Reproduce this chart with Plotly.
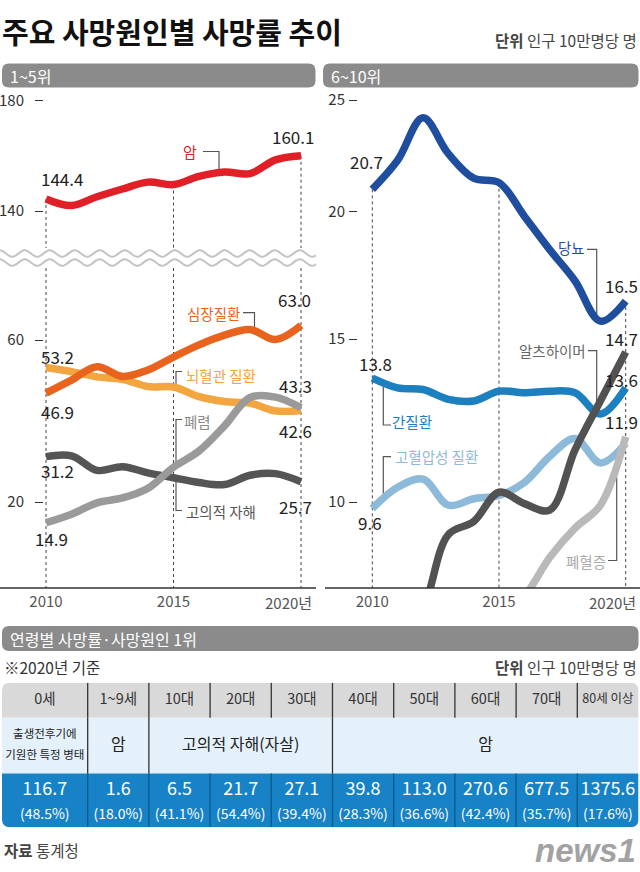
import plotly.graph_objects as go
import numpy as np

W, H = 640, 872
FONT = "Noto Sans CJK KR"


def X(px):
    return px / W


def Y(py):
    return 1 - py / H


# ---------------- data ----------------
years = list(range(2010, 2021))

# 1~5위 (인구 10만명당)
cancer = [144.4, 142.0, 145.2, 148.0, 150.5, 149.6, 152.6, 154.2, 153.6, 158.6, 160.1]
heart = [46.9, 50.1, 53.4, 51.0, 52.6, 55.8, 58.8, 61.2, 62.6, 60.1, 63.6]
cerebro = [53.2, 52.2, 50.9, 50.3, 48.5, 48.4, 46.0, 44.8, 44.4, 42.5, 42.6]
pneumonia = [14.9, 17.0, 19.8, 21.0, 23.4, 28.6, 32.6, 38.8, 45.8, 45.9, 43.3]
suicide = [31.2, 31.4, 27.8, 28.7, 27.2, 26.0, 24.8, 24.3, 26.6, 27.0, 25.0]

# 6~10위
diabetes = [21.0, 22.3, 24.2, 22.6, 21.5, 21.3, 19.8, 18.3, 16.9, 15.1, 16.0]
liver = [13.8, 13.5, 13.45, 13.15, 13.1, 13.4, 13.35, 13.4, 13.35, 12.7, 13.5]
hypertension = [9.8, 10.45, 10.7, 9.9, 10.1, 10.2, 10.6, 11.4, 11.95, 11.2, 11.8]
alzheimer = [4.5, 5.6, 6.7, 9.0, 9.4, 10.3, 9.95, 9.75, 11.6, 13.1, 14.6]
sepsis = [3.9, 4.5, 5.0, 5.4, 5.9, 6.4, 7.1, 8.3, 9.2, 9.9, 12.0]

# 연령별 사망률·사망원인 1위 (2020년)
ages = ["0세", "1~9세", "10대", "20대", "30대", "40대", "50대", "60대", "70대", "80세 이상"]
causes = ["출생전후기에<br>기원한 특정 병태", "암", "고의적 자해(자살)", "암"]
cause_span = [1, 1, 3, 5]
rates = [116.7, 1.6, 6.5, 21.7, 27.1, 39.8, 113.0, 270.6, 677.5, 1375.6]
shares = [48.5, 18.0, 41.1, 54.4, 39.4, 28.3, 36.6, 42.4, 35.7, 17.6]

# ---------------- styles ----------------
C_CANCER = "#e01f27"
C_HEART = "#e8641e"
C_CEREBRO = "#f3a53f"
C_PNEU = "#9a9a9a"
C_SUI = "#555555"
C_DIAB = "#1f4e9e"
C_LIVER = "#1b7fc0"
C_HYPER = "#8dbad9"
C_ALZ = "#525252"
C_SEPSIS = "#b9b9b9"
LW = 7.5

fig = go.Figure()


def add_line(vals, color, xa, ya):
    fig.add_trace(go.Scatter(
        x=years, y=vals, mode="lines", xaxis=xa, yaxis=ya,
        line=dict(color=color, width=LW, shape="spline", smoothing=1.0),
        hoverinfo="skip", showlegend=False))


add_line(cancer, C_CANCER, "x", "y")
add_line(suicide, C_SUI, "x", "y2")
add_line(cerebro, C_CEREBRO, "x", "y2")
add_line(heart, C_HEART, "x", "y2")
add_line(pneumonia, C_PNEU, "x", "y2")

add_line(diabetes, C_DIAB, "x2", "y3")
add_line(hypertension, C_HYPER, "x2", "y4")
add_line(liver, C_LIVER, "x2", "y4")
add_line(sepsis, C_SEPSIS, "x2", "y4")
add_line(alzheimer, C_ALZ, "x2", "y4")

# ---------------- table (own axes) ----------------
col_w = [1.4, 1, 1, 1, 1, 1, 1, 1, 1, 1]
row_h = [1.0, 1.59, 1.54]
cb = np.concatenate([[0], np.cumsum(col_w)])
rb = np.concatenate([[0], np.cumsum(row_h)])
TW, TH = cb[-1], rb[-1]
centers = [(cb[i] + cb[i + 1]) / 2 for i in range(len(col_w))]

fig.add_trace(go.Scatter(
    x=centers, y=[rb[0] + row_h[0] / 2] * len(ages), text=ages, mode="text",
    textfont=dict(family=FONT, size=[14.5] * 9 + [12.5], color="#333"),
    xaxis="x3", yaxis="y5", hoverinfo="skip", showlegend=False, cliponaxis=False))

# cause row (merged cells)
ci = 0
cx, cy, ct, cs = [], [], [], []
for txt, sp in zip(causes, cause_span):
    c = (cb[ci] + cb[ci + sp]) / 2
    parts = txt.split("<br>")
    mid = rb[1] + row_h[1] / 2
    n = len(parts)
    for k, p in enumerate(parts):
        cx.append(c)
        cy.append(mid + (k - (n - 1) / 2) * 0.62)
        ct.append(p)
        cs.append(11.5 if n > 1 else 16)
    ci += sp
fig.add_trace(go.Scatter(
    x=cx, y=cy, text=ct, mode="text",
    textfont=dict(family=FONT, size=cs, color="#222"),
    xaxis="x3", yaxis="y5", hoverinfo="skip", showlegend=False, cliponaxis=False))

fig.add_trace(go.Scatter(
    x=centers, y=[rb[2] + row_h[2] * 0.31] * len(rates),
    text=[f"{v:.1f}" for v in rates], mode="text",
    textfont=dict(family=FONT, size=18, color="white"),
    xaxis="x3", yaxis="y5", hoverinfo="skip", showlegend=False, cliponaxis=False))
fig.add_trace(go.Scatter(
    x=centers, y=[rb[2] + row_h[2] * 0.78] * len(shares),
    text=[f"({v:.1f}%)" for v in shares], mode="text",
    textfont=dict(family=FONT, size=14, color="white"),
    xaxis="x3", yaxis="y5", hoverinfo="skip", showlegend=False, cliponaxis=False))

# ---------------- shapes ----------------
shapes = []


def rpath(x0, y0, x1, y1, rx, ry, corners, fx, fy):
    tl, tr, br, bl = corners
    P = lambda x, y: f"{fx(x):.6f},{fy(y):.6f}"
    s = []
    if tl:
        s += ["M " + P(x0, y0 + ry), "Q " + P(x0, y0) + " " + P(x0 + rx, y0)]
    else:
        s += ["M " + P(x0, y0)]
    if tr:
        s += ["L " + P(x1 - rx, y0), "Q " + P(x1, y0) + " " + P(x1, y0 + ry)]
    else:
        s += ["L " + P(x1, y0)]
    if br:
        s += ["L " + P(x1, y1 - ry), "Q " + P(x1, y1) + " " + P(x1 - rx, y1)]
    else:
        s += ["L " + P(x1, y1)]
    if bl:
        s += ["L " + P(x0 + rx, y1), "Q " + P(x0, y1) + " " + P(x0, y1 - ry)]
    else:
        s += ["L " + P(x0, y1)]
    s.append("Z")
    return " ".join(s)


BAR = "#8b8b8b"
for (x0, y0, x1, y1) in [(2, 63.5, 315.5, 87.5), (323, 63.5, 638.5, 87.5), (2, 626, 638.5, 651)]:
    shapes.append(dict(type="path", xref="paper", yref="paper",
                       path=rpath(x0, y0, x1, y1, 7, 7, (1, 1, 1, 1), X, Y),
                       fillcolor=BAR, line=dict(width=0), layer="below"))

# baselines
shapes.append(dict(type="line", xref="paper", yref="paper", x0=X(0), x1=X(316), y0=Y(588), y1=Y(588),
                   line=dict(color="#333", width=1.5)))
shapes.append(dict(type="line", xref="paper", yref="paper", x0=X(325), x1=X(640), y0=Y(588), y1=Y(588),
                   line=dict(color="#333", width=1.5)))

# dotted year guides
DOT = dict(color="#444", width=1, dash="dot")
UP_MIN, UP_MAX = 126.55, 183.27
LO_MIN, LO_MAX = -1.235, 77.78
R3_MIN, R3_MAX = 3.156, 25.358
R4_MIN, R4_MAX = 7.362, 22.577
for yr in [2010, 2015, 2020]:
    i = years.index(yr)
    shapes.append(dict(type="line", xref="x", yref="y", x0=yr, x1=yr, y0=cancer[i], y1=UP_MIN,
                       line=DOT, layer="below"))
    shapes.append(dict(type="line", xref="x", yref="y2", x0=yr, x1=yr, y0=LO_MAX, y1=LO_MIN,
                       line=DOT, layer="below"))
    shapes.append(dict(type="line", xref="x2", yref="y3", x0=yr, x1=yr, y0=diabetes[i], y1=R3_MIN,
                       line=DOT, layer="below"))

# axis-break waves
for yc in (253.5, 262.5):
    xs = np.arange(0, 317, 1.0)
    ys = yc + 3.2 * np.sin(2 * np.pi * (xs - 6) / 25.0)
    path = "M " + " L ".join(f"{X(a):.6f},{Y(b):.6f}" for a, b in zip(xs, ys))
    shapes.append(dict(type="path", xref="paper", yref="paper", path=path,
                       line=dict(color="#c2c2c2", width=2)))

# leader lines (pixel space)
LEAD = dict(color="#555", width=1.2)
leaders = [
    [(203, 151.5), (219, 151.5), (219, 170)],
    [(243, 312.7), (254.5, 312.7), (254.5, 328)],
    [(182, 371.5), (176, 371.5), (176, 387)],
    [(182, 419.5), (176, 419.5), (176, 463)],
    [(176, 478), (176, 510.5), (182, 510.5)],
    [(587, 249.3), (596.7, 249.3), (596.7, 316)],
    [(588, 350.7), (596.7, 350.7), (596.7, 411)],
    [(383.3, 385), (383.3, 425), (391, 425)],
    [(391, 456.7), (383.3, 456.7), (383.3, 496)],
    [(608, 560.5), (616.7, 560.5), (616.7, 477)],
]
for pts in leaders:
    path = "M " + " L ".join(f"{X(a):.6f},{Y(b):.6f}" for a, b in pts)
    shapes.append(dict(type="path", xref="paper", yref="paper", path=path, line=LEAD, layer="below"))

# table cells
pxx = 636.5 / TW
pxy = 144.6 / TH
rx, ry = 8 / pxx, 8 / pxy
ident = lambda v: v
shapes.append(dict(type="path", xref="x3", yref="y5",
                   path=rpath(0, rb[0], TW, rb[1], rx, ry, (1, 1, 0, 0), ident, ident),
                   fillcolor="#d9d9d9", line=dict(width=0), layer="below"))
shapes.append(dict(type="rect", xref="x3", yref="y5", x0=0, x1=TW, y0=rb[1], y1=rb[2],
                   fillcolor="#e4f1fb", line=dict(width=0), layer="below"))
shapes.append(dict(type="path", xref="x3", yref="y5",
                   path=rpath(0, rb[2], TW, rb[3], rx, ry, (0, 0, 1, 1), ident, ident),
                   fillcolor="#1782c5", line=dict(width=0), layer="below"))
for i in range(1, len(col_w)):
    shapes.append(dict(type="line", xref="x3", yref="y5", x0=cb[i], x1=cb[i], y0=rb[0], y1=rb[1],
                       line=dict(color="#333", width=1.3)))
    shapes.append(dict(type="line", xref="x3", yref="y5", x0=cb[i], x1=cb[i], y0=rb[2], y1=rb[3],
                       line=dict(color="#0c5a8e", width=1.3)))
acc = 0
for sp in cause_span[:-1]:
    acc += sp
    shapes.append(dict(type="line", xref="x3", yref="y5", x0=cb[acc], x1=cb[acc], y0=rb[1], y1=rb[2],
                       line=dict(color="#333", width=1.3)))

# ---------------- annotations ----------------
ann = []


def A(text, x, y, size=15, color="#222", xanchor="center", **kw):
    d = dict(text=text, x=X(x), y=Y(y), xref="paper", yref="paper", showarrow=False,
             xanchor=xanchor, yanchor="middle", font=dict(family=FONT, size=size, color=color))
    d.update(kw)
    ann.append(d)


A("<b>주요 사망원인별 사망률 추이</b>", 0, 31, size=29, color="#111", xanchor="left")
A("<b>단위</b> 인구 10만명당 명", 639, 40, size=15.5, color="#444", xanchor="right")
A("1~5위", 8, 76, size=16, color="white", xanchor="left")
A("6~10위", 329, 76, size=16, color="white", xanchor="left")
A("연령별 사망률·사망원인 1위", 8, 638.5, size=16, color="white", xanchor="left")
A("※2020년 기준", 2, 666.5, size=15.5, color="#333", xanchor="left")
A("<b>단위</b> 인구 10만명당 명", 639, 666.5, size=15.5, color="#444", xanchor="right")
A("<b>자료</b> 통계청", 2, 850, size=15.5, color="#444", xanchor="left")
ann.append(dict(text="<b><i>news1</i></b>", x=X(638), y=Y(850), xref="paper", yref="paper",
                showarrow=False, xanchor="right", yanchor="middle",
                font=dict(family="Liberation Sans", size=33, color="#a2a2a2")))

A("2020년", 314, 602.5, size=15, color="#555", xanchor="right")
A("2020년", 638, 602.5, size=15, color="#555", xanchor="right")

# series names
A("암", 190, 151.5, size=15, color=C_CANCER)
A("심장질환", 213, 313, size=14.5, color=C_HEART)
A("뇌혈관 질환", 220.5, 375, size=14.5, color=C_CEREBRO)
A("폐렴", 197.5, 421.5, size=14.5, color="#8a8a8a")
A("고의적 자해", 220.5, 511.5, size=14.5, color=C_SUI)
A("당뇨", 571, 247, size=14.5, color=C_DIAB)
A("알츠하이머", 552, 350, size=14.5, color="#666")
A("간질환", 411.7, 421.5, size=14.5, color=C_LIVER)
A("고혈압성 질환", 436, 456.7, size=14.5, color=C_HYPER)
A("폐혈증", 586, 561.5, size=14.5, color="#aaa")

# value labels
VS = 17
for t, x, y in [("144.4", 62, 178), ("160.1", 292.5, 136.7), ("63.0", 294, 299.3),
                ("53.2", 57.5, 356.7), ("46.9", 57.5, 411.7), ("43.3", 295, 385),
                ("42.6", 295, 430), ("31.2", 57.5, 470), ("25.7", 295, 506.7),
                ("14.9", 51, 538.3), ("20.7", 366, 161.7), ("13.8", 375.5, 363.3),
                ("9.6", 370, 522.7)]:
    A(t, x, y, size=VS, color="#222")
for t, y in [("16.5", 285), ("14.7", 338), ("13.6", 380), ("11.9", 421.7)]:
    A(t, 640, y, size=VS, color="#222", xanchor="right")

# ---------------- layout ----------------
ytick = dict(showgrid=False, zeroline=False, showline=False, ticks="outside", ticklen=8,
             tickwidth=1.2, tickcolor="#333", fixedrange=True, automargin=False,
             tickfont=dict(family=FONT, size=15, color="#333"))
xtick = dict(showgrid=False, zeroline=False, showline=False, ticks="", fixedrange=True,
             automargin=False, ticklabelstandoff=3, tickfont=dict(family=FONT, size=15, color="#555"))

fig.update_layout(
    width=W, height=H, margin=dict(l=0, r=0, t=0, b=0, pad=0, autoexpand=False),
    paper_bgcolor="white", plot_bgcolor="rgba(0,0,0,0)", showlegend=False,
    font=dict(family=FONT),
    xaxis=dict(domain=[X(44), X(313)], range=[2010 - 2 / 25.5, 2010 + 267 / 25.5], anchor="y2",
               tickvals=[2010, 2015], ticktext=["2010", "2015"], **xtick),
    yaxis=dict(domain=[Y(248), Y(92)], range=[UP_MIN, UP_MAX], anchor="x",
               tickvals=[140, 180], ticklabelstandoff=8, **ytick),
    yaxis2=dict(domain=[Y(588), Y(268)], range=[LO_MIN, LO_MAX], anchor="x",
                tickvals=[20, 60], ticklabelstandoff=8, **ytick),
    xaxis2=dict(domain=[X(358), 1], range=[2010 - 14.3 / 25.34, 2020 + 14.3 / 25.34], anchor="y3",
                tickvals=[2010, 2015], ticktext=["2010", "2015"], **xtick),
    yaxis3=dict(domain=[Y(588), Y(92)], range=[R3_MIN, R3_MAX], anchor="x2",
                tickvals=[20, 25], ticklabelstandoff=1, **ytick),
    yaxis4=dict(overlaying="y3", range=[R4_MIN, R4_MAX], anchor="x2", side="left",
                tickvals=[10, 15], ticklabelstandoff=1, **ytick),
    xaxis3=dict(domain=[X(2), X(638.5)], range=[0, TW], anchor="y5", visible=False,
                fixedrange=True, automargin=False),
    yaxis5=dict(domain=[Y(827.3), Y(682.7)], range=[TH, 0], anchor="x3", visible=False,
                fixedrange=True, automargin=False),
    shapes=shapes, annotations=ann,
)

fig.write_html("out.html", config={"displayModeBar": False})

# remove default page margins so the 640x872 figure fills the window exactly
with open("out.html", "r", encoding="utf-8") as f:
    html = f.read()
css = "<style>html,body{margin:0;padding:0;overflow:hidden;background:#fff;}</style>"
if "<head>" in html:
    html = html.replace("<head>", "<head>" + css, 1)
else:
    html = css + html
with open("out.html", "w", encoding="utf-8") as f:
    f.write(html)
